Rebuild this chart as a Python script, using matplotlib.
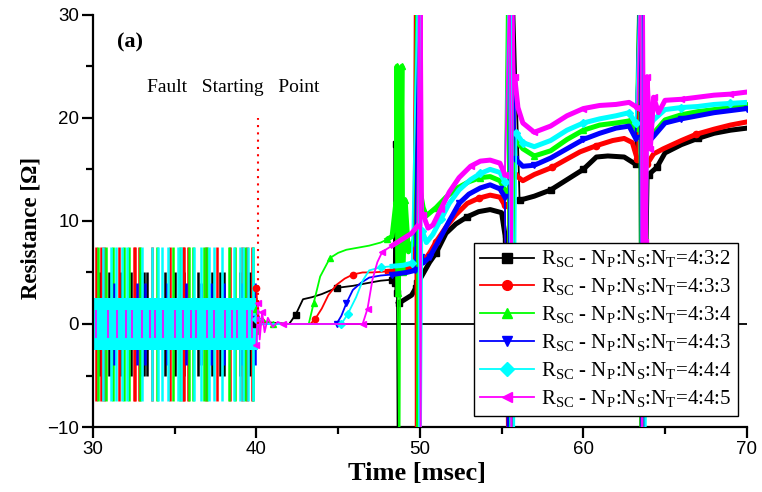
import numpy as np
import matplotlib
matplotlib.use('Agg')
import matplotlib.pyplot as plt
from matplotlib.lines import Line2D

plt.rcParams['mathtext.fontset'] = 'custom'
plt.rcParams['mathtext.rm'] = 'Liberation Serif'

# ---- data ----
ratios = ['4:3:2', '4:3:3', '4:3:4', '4:4:3', '4:4:4', '4:4:5']
colors = ['black', 'red', '#00ff00', 'blue', 'cyan', 'magenta']
markers = ['s', 'o', '^', 'v', 'D', '<']

# switching region before the fault (30-40 ms): spike times and heights
black_sw = [30.4, 31.0, 31.7, 32.3, 32.9, 33.1, 33.3, 34.4, 35.0, 35.6, 36.4, 37.3,
            37.8, 38.0, 39.0, 39.6]
red_sw = [30.2, 30.5, 30.7, 31.6, 32.5, 32.6, 32.8, 33.6, 34.7, 35.5, 35.6, 35.8, 36.9,
          37.6, 38.4, 39.1, 39.4, 39.7]
green_sw = [30.3, 30.8, 31.2, 31.9, 32.2, 32.9, 33.9, 34.9, 35.3, 35.9, 36.1, 36.8, 37.0,
            38.3, 38.7, 39.3, 39.8]
blue_sw = [31.3, 32.7, 33.2, 34.5, 35.7, 36.6, 37.2, 38.0, 39.1, 39.9]
cyan_sw = [30.6, 31.1, 31.4, 31.8, 32.1, 33.0, 33.6, 34.0, 34.2, 34.6, 35.2, 35.4, 36.2,
           36.6, 37.1, 37.4, 37.9, 38.6, 39.0, 39.2, 39.5, 39.8]
magenta_sw = [30.2, 30.9, 31.5, 32.0, 32.4, 33.0, 33.5, 33.8, 34.3, 35.0, 35.5, 36.0,
              36.3, 37.0, 37.4, 38.1, 38.5, 38.8, 39.4, 39.7]
sw_height = [5.0, 7.5, 7.5, 4.0, 7.5, 1.4]
band_lo, band_hi = -2.5, 2.5

# after the fault (40-70 ms)
black_t = [40.0, 40.1, 40.3, 42.0, 42.4, 42.85, 43.4, 44.0, 44.9, 45.9, 46.9, 47.6, 48.3,
           48.5, 48.55, 48.6, 48.65, 48.7, 49.0, 49.5, 49.75, 49.8, 49.85, 50.1, 50.6,
           51.0, 51.6, 52.2, 52.9, 53.6, 54.3, 55.0, 55.25, 55.4, 55.5, 55.6, 55.7, 56.1,
           57.0, 58.0, 59.0, 60.0, 60.8, 61.5, 62.5, 63.2, 63.4, 63.5, 63.6, 63.7, 64.0,
           64.5, 65.0, 66.0, 67.0, 68.0, 69.0, 70.0]
black_v = [0.0, -0.5, 0.2, 0.0, 0.9, 2.4, 2.6, 2.9, 3.5, 3.7, 4.0, 4.2, 4.3,
           4.0, 17.5, 3.0, -15, 2.0, 2.3, 2.8, 3.5, 35, 4.0, 4.6, 6.0,
           6.9, 8.8, 9.7, 10.4, 10.9, 11.1, 10.8, 8.2, -15, 35, -15, 35, 12.0,
           12.4, 13.0, 14.0, 15.0, 16.2, 16.3, 16.2, 15.5, 35, -15, 35, -15, 14.5,
           15.2, 16.6, 17.4, 18.0, 18.5, 18.8, 19.0]

red_t = [40.0, 40.1, 40.3, 41.0, 43.3, 43.6, 44.0, 44.4, 44.9, 45.4, 45.9, 46.5, 47.1,
         48.0, 48.8, 49.3, 49.6, 49.7, 49.75, 49.8, 49.9, 50.2, 50.6, 51.0, 51.6, 52.2,
         52.9, 53.6, 54.3, 54.9, 55.2, 55.35, 55.45, 55.55, 55.65, 55.8, 56.3, 57.0,
         58.1, 59.0, 59.8, 60.8, 61.8, 62.5, 63.0, 63.3, 63.45, 63.55, 63.65, 63.75,
         63.9, 64.3, 64.9, 66.0, 66.9, 68.0, 69.0, 70.0]
red_v = [3.5, -0.5, 0.3, 0.0, 0.0, 0.5, 1.5, 2.8, 3.8, 4.4, 4.8, 5.0, 5.0,
         5.1, 5.2, 5.4, 5.6, 35, -15, 35, 6.0, 6.0, 6.9, 8.0, 9.4, 10.6,
         11.7, 12.2, 12.5, 12.3, 11.5, -15, 35, -15, 35, 14.5, 13.9, 14.5,
         15.2, 16.0, 16.7, 17.3, 17.8, 18.0, 17.6, 16.0, 35, -15, 35, -15,
         15.5, 16.5, 17.0, 17.8, 18.4, 18.9, 19.3, 19.6]

green_t = [40.0, 40.1, 40.3, 41.0, 43.2, 43.5, 43.9, 44.5, 45.0, 45.5, 46.2, 46.9, 47.6,
           48.0, 48.3, 48.55, 48.6, 48.65, 48.75, 48.8, 48.9, 48.95, 49.1, 49.3, 49.6,
           49.8, 49.85, 49.9, 50.2, 50.4, 51.0, 51.6, 52.3, 53.0, 53.7, 54.3, 54.9, 55.2,
           55.35, 55.45, 55.55, 55.65, 55.8, 56.3, 57.0, 58.0, 59.0, 60.0, 61.0, 62.0,
           62.8, 63.2, 63.4, 63.5, 63.6, 63.7, 63.85, 64.3, 65.0, 66.0, 67.0, 68.0,
           69.0, 70.0]
green_v = [1.5, -1.0, 0.4, 0.0, 0.0, 2.0, 4.6, 6.4, 6.9, 7.2, 7.4, 7.6, 7.9,
           8.2, 8.5, 12.0, 25.0, 3.0, -15, 8.0, 25.0, 5.0, 12.0, 7.0, 8.0,
           35, -15, 14.0, 11.3, 10.5, 11.3, 12.3, 13.2, 13.8, 14.2, 14.3, 13.9, 13.0,
           35, -15, 35, -15, 18.0, 17.0, 16.3, 16.8, 17.9, 18.8, 19.3, 19.5,
           19.7, 19.0, 35, -15, 35, -15, 17.5, 18.5, 19.8, 20.3, 20.6, 20.8,
           21.0, 21.2]

blue_t = [40.0, 40.2, 44.9, 45.2, 45.5, 45.9, 46.4, 46.9, 47.6, 48.3, 49.2, 49.7, 49.9,
          49.95, 50.0, 50.05, 50.1, 50.2, 50.6, 51.2, 51.8, 52.4, 53.0, 53.7, 54.3, 54.9,
          55.2, 55.4, 55.5, 55.6, 55.7, 55.85, 56.3, 57.0, 58.0, 59.0, 60.0, 61.0, 62.0,
          62.8, 63.2, 63.45, 63.55, 63.65, 63.75, 63.9, 64.3, 65.0, 66.0, 67.0, 68.0,
          69.0, 70.0]
blue_v = [0.5, 0.0, 0.0, 0.8, 2.0, 3.3, 4.0, 4.5, 4.7, 4.8, 5.0, 5.2, 35,
          19.5, -15, 35, 6.5, 5.9, 6.5, 8.2, 10.0, 11.7, 12.6, 13.2, 13.5, 13.1,
          12.3, -15, 35, -15, 35, 16.0, 15.3, 15.4, 16.1, 17.0, 17.9, 18.5, 19.0,
          19.2, 18.0, 35, -15, 35, -15, 17.5, 18.2, 19.5, 19.9, 20.2, 20.5,
          20.7, 20.9]

cyan_t = [40.0, 40.2, 45.2, 45.6, 46.1, 46.5, 46.9, 47.6, 48.3, 49.0, 49.5, 49.9, 49.95,
          50.0, 50.05, 50.15, 50.4, 50.8, 51.3, 51.8, 52.4, 53.1, 53.7, 54.3, 54.9, 55.2,
          55.45, 55.55, 55.65, 55.75, 55.9, 56.3, 57.0, 58.0, 59.0, 60.0, 61.0, 62.0,
          62.8, 63.2, 63.5, 63.6, 63.7, 63.8, 63.95, 64.3, 65.0, 66.0, 67.0, 68.0,
          69.0, 70.0]
cyan_v = [0.5, 0.0, 0.0, 1.0, 2.6, 4.2, 5.2, 5.5, 5.6, 5.7, 5.9, 35, -15,
          35, -15, 9.0, 7.9, 8.7, 10.2, 11.7, 13.0, 14.0, 14.6, 15.0, 14.7, 13.8,
          35, -15, 35, -15, 18.5, 17.6, 17.2, 17.8, 18.8, 19.5, 19.9, 20.2,
          20.5, 19.5, 35, -15, 35, -15, 19.0, 19.8, 20.8, 21.0, 21.1, 21.3,
          21.4, 21.5]

magenta_t = [40.0, 40.1, 40.2, 40.35, 40.5, 40.7, 41.0, 41.3, 41.6, 46.5, 46.8, 47.1, 47.4,
             47.7, 48.3, 48.9, 49.5, 49.85, 49.95, 50.05, 50.1, 50.2, 50.5, 50.8, 51.3,
             51.8, 52.4, 53.1, 53.7, 54.3, 54.9, 55.2, 55.5, 55.6, 55.7, 55.8, 56.0, 56.3,
             57.0, 58.0, 59.0, 60.0, 61.0, 62.0, 62.8, 63.3, 63.5, 63.6, 63.7, 63.8, 63.9,
             64.1, 64.3, 64.6, 65.0, 66.0, 67.0, 68.0, 69.0, 70.0]
magenta_v = [-2.0, 2.0, -1.5, 1.2, -0.8, 0.6, -0.3, 0.2, 0.0, 0.0, 1.5, 4.3, 6.0,
             7.0, 7.6, 8.2, 8.8, 9.5, 35, -15, 35, 10.6, 9.3, 9.6, 11.2,
             12.8, 14.2, 15.3, 15.8, 15.9, 15.6, 14.5, 35, -15, 35, 24.0, 21.0, 19.5,
             18.6, 19.2, 20.2, 20.9, 21.2, 21.3, 21.5, 21.0, 35, -15, 35, 8.0, 24.0,
             17.0, 22.0, 20.5, 21.7, 21.8, 22.0, 22.2, 22.3, 22.5]

series_t = [black_t, red_t, green_t, blue_t, cyan_t, magenta_t]
series_v = [black_v, red_v, green_v, blue_v, cyan_v, magenta_v]
series_sw = [black_sw, red_sw, green_sw, blue_sw, cyan_sw, magenta_sw]

fault_t = 40.1
fault_top = 20

fig = plt.figure(figsize=(7.62, 4.92), dpi=100)
ax = fig.add_axes([0.122, 0.132, 0.858, 0.838])

ax.axhline(0, color='black', lw=1.3, zorder=1)

# switching region
for i in range(6):
    if i == 5:
        ax.fill_between([30, 40.1], band_lo, band_hi, color='cyan', lw=0, zorder=2)
        ax.vlines(series_sw[i], -sw_height[i], sw_height[i], color=colors[i], lw=1.2, zorder=3)
    else:
        ax.vlines(series_sw[i], -sw_height[i], sw_height[i], color=colors[i], lw=1.8, zorder=2)

# main traces: thin line with markers, plus a thick band for the noisy part
for i in range(6):
    t = np.array(series_t[i])
    v = np.array(series_v[i])
    ax.plot(t, v, color=colors[i], lw=1.3, marker=markers[i], ms=4.5,
            markevery=0.07, zorder=3 + i * 0.1)
    band = np.where((v > 29) | (v < -9), np.nan, v)
    noisy = t >= 48.0
    ax.plot(t[noisy], band[noisy], color=colors[i], lw=3.6, zorder=3 + i * 0.1)

ax.plot([fault_t, fault_t], [0, fault_top], color='red', ls=(0, (1, 2.5)), lw=1.5, zorder=4)
ax.text(33.3, 22.9, 'Fault   Starting   Point', fontsize=14, family='Liberation Serif',
        va='center', ha='left')
ax.text(31.5, 27.3, '(a)', fontsize=16, family='Liberation Serif', weight='bold',
        va='center', ha='left')

ax.set_xlim(30, 70)
ax.set_ylim(-10, 30)
ax.set_xticks([30, 40, 50, 60, 70])
ax.set_yticks([-10, 0, 10, 20, 30])
ax.set_xticks([35, 45, 55, 65], minor=True)
ax.set_yticks([-5, 5, 15, 25], minor=True)
for s in ['top', 'right']:
    ax.spines[s].set_visible(False)
for s in ['left', 'bottom']:
    ax.spines[s].set_linewidth(1.6)
ax.tick_params(which='major', direction='out', length=8, width=1.6, labelsize=13.5, pad=2)
ax.tick_params(which='minor', direction='out', length=5, width=1.6)
for lab in ax.get_xticklabels() + ax.get_yticklabels():
    lab.set_family('Liberation Sans')

ax.set_xlabel('Time [msec]', fontsize=19, family='Liberation Serif', weight='bold')
ax.set_ylabel('Resistance [\u03a9]', fontsize=16.5, family='Liberation Serif', weight='bold')
ax.xaxis.set_label_coords(0.495, -0.085)
ax.yaxis.set_label_coords(-0.078, 0.483)

handles = [Line2D([], [], color=colors[i], marker=markers[i], ms=7, lw=1.3) for i in range(6)]
labels = [r'R$_{\rm SC}$ - N$_{\rm P}$:N$_{\rm S}$:N$_{\rm T}$=' + r for r in ratios]
leg = ax.legend(handles, labels, loc='lower right', bbox_to_anchor=(0.986, 0.027),
                prop={'family': 'Liberation Serif', 'size': 15}, frameon=True,
                fancybox=False, edgecolor='black', framealpha=1, handlelength=2.6,
                handletextpad=0.3, labelspacing=0.3, borderpad=0.3, borderaxespad=0)
leg.get_frame().set_linewidth(1.0)
leg.set_zorder(10)

fig.savefig('out.png', dpi=100)
